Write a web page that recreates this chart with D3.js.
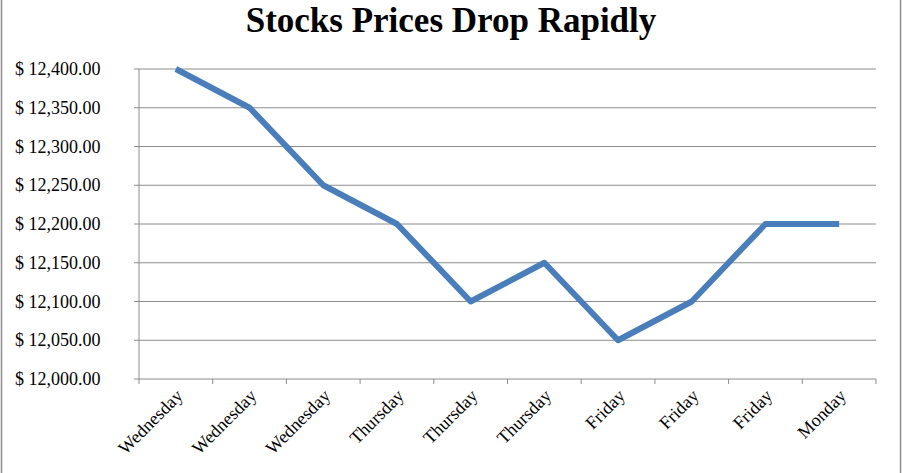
<!DOCTYPE html>
<html lang="en">
<head>
<meta charset="UTF-8">
<script src="https://d3js.org/d3.v7.min.js"></script>
<style>
  body { margin: 0; background: white; }
  svg { font-family: "Liberation Serif", "DejaVu Serif", serif; }
</style>
</head>
<body>
<script>
// chart data
var days = ["Wednesday", "Wednesday", "Wednesday", "Thursday", "Thursday", "Thursday", "Friday", "Friday", "Friday", "Monday"];
var prices = [12400, 12350, 12250, 12200, 12100, 12150, 12050, 12100, 12200, 12200];
var yTicks = [12000, 12050, 12100, 12150, 12200, 12250, 12300, 12350, 12400];

var width = 902, height = 473;
var plotLeft = 139, plotRight = 876, plotTop = 69, plotBottom = 379;

var svg = d3.select("body").append("svg")
    .attr("width", width).attr("height", height);

// outer frame
svg.append("rect").attr("x", 1.5).attr("y", -2).attr("width", width - 3).attr("height", height + 4)
    .attr("fill", "none").attr("stroke", "#8c8c8c").attr("stroke-width", 1.5);

svg.append("text").attr("x", 451).attr("y", 32).attr("text-anchor", "middle")
    .attr("font-size", 35).attr("font-weight", "bold").text("Stocks Prices Drop Rapidly");

var idx = d3.range(days.length);
var x = d3.scaleBand().domain(idx).range([plotLeft, plotRight]);
var y = d3.scaleLinear().domain([12000, 12400]).range([plotBottom, plotTop]);

// gridlines
svg.append("g").selectAll("line").data(yTicks).enter().append("line")
    .attr("x1", plotLeft).attr("x2", plotRight)
    .attr("y1", function (d) { return y(d); }).attr("y2", function (d) { return y(d); })
    .attr("stroke", "#8c8c8c").attr("stroke-width", 1);

// axis lines and ticks
svg.append("line").attr("x1", plotLeft).attr("x2", plotLeft).attr("y1", plotTop).attr("y2", plotBottom)
    .attr("stroke", "#8c8c8c");
svg.append("g").selectAll("line").data(yTicks).enter().append("line")
    .attr("x1", plotLeft - 5).attr("x2", plotLeft)
    .attr("y1", function (d) { return y(d); }).attr("y2", function (d) { return y(d); })
    .attr("stroke", "#8c8c8c");
svg.append("g").selectAll("line").data(d3.range(days.length + 1)).enter().append("line")
    .attr("x1", function (i) { return plotLeft + i * x.bandwidth(); })
    .attr("x2", function (i) { return plotLeft + i * x.bandwidth(); })
    .attr("y1", plotBottom).attr("y2", plotBottom + 5)
    .attr("stroke", "#8c8c8c");

// y labels
var fmt = d3.format(",.2f");
svg.append("g").selectAll("text").data(yTicks).enter().append("text")
    .attr("x", 15).attr("y", function (d) { return y(d) + 6; })
    .attr("font-size", 18).text(function (d) { return "$ " + fmt(d); });

// x labels
svg.append("g").selectAll("text").data(idx).enter().append("text")
    .attr("text-anchor", "end")
    .attr("font-size", 18)
    .attr("transform", function (i) {
        return "translate(" + (x(i) + x.bandwidth() / 2 + 8) + "," + (plotBottom + 18) + ") rotate(-45)";
    })
    .text(function (i) { return days[i]; });

// line
var line = d3.line()
    .x(function (d, i) { return x(i) + x.bandwidth() / 2; })
    .y(function (d) { return y(d); });
svg.append("path").datum(prices).attr("d", line)
    .attr("fill", "none").attr("stroke", "#4a7ebb").attr("stroke-width", 6)
    .attr("stroke-linejoin", "round");
</script>
</body>
</html>
